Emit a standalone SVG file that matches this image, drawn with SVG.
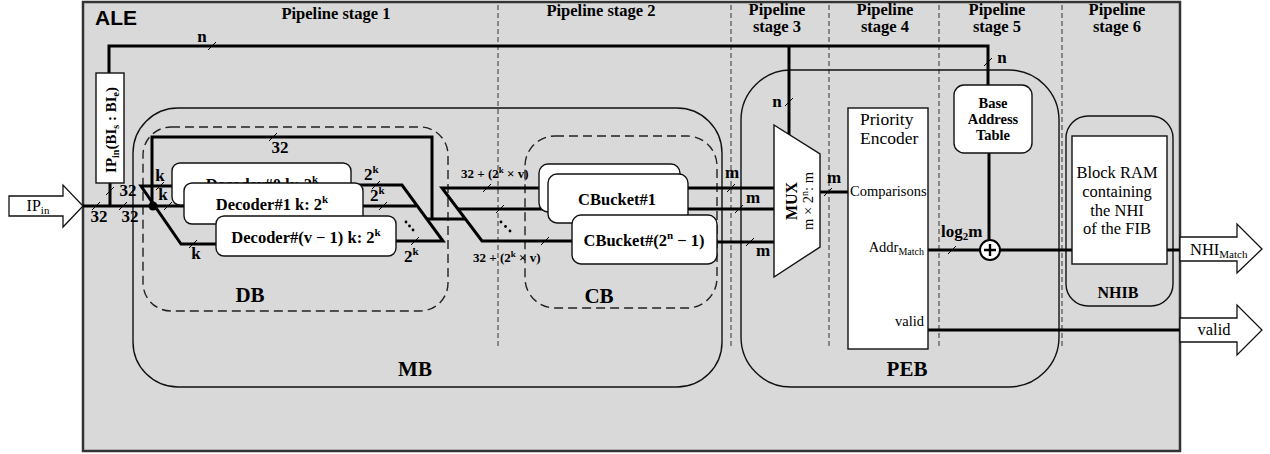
<svg xmlns="http://www.w3.org/2000/svg" width="1270" height="454" viewBox="0 0 1270 454">
<defs>
<style>
.bus{fill:none;stroke:#000;stroke-width:3;stroke-linejoin:miter}
.tk{stroke:#000;stroke-width:1}
.div{stroke:#333;stroke-width:1;stroke-dasharray:5 3}
.blk{fill:none;stroke:#111;stroke-width:1.4}
.dash{fill:none;stroke:#222;stroke-width:1.4;stroke-dasharray:9 5}
.box{fill:#fff;stroke:#111;stroke-width:1.4}
.sb{font-family:"Liberation Serif",serif;font-weight:bold;fill:#000}
.sr{font-family:"Liberation Serif",serif;fill:#000}
.lab{font-family:"Liberation Serif",serif;font-weight:bold;font-size:17px;text-anchor:middle}
.stg{font-family:"Liberation Serif",serif;font-weight:bold;font-size:16.5px;text-anchor:middle}
.big{font-family:"Liberation Serif",serif;font-weight:bold;font-size:21px;text-anchor:middle}
.sup{font-size:11px}
</style>
</defs>

<!-- accelerator frame -->
<g id="ale">
<rect x="83" y="2" width="1097" height="449" fill="#d9d9d9" stroke="#333" stroke-width="2.5"/>
<text x="95" y="25" font-family="Liberation Sans, sans-serif" font-weight="bold" font-size="21">ALE</text>
</g>

<!-- pipeline stage separators and headings -->
<g id="stages">
<line class="div" x1="498" y1="5" x2="498" y2="348"/>
<line class="div" x1="731" y1="5" x2="731" y2="348"/>
<line class="div" x1="829" y1="5" x2="829" y2="348"/>
<line class="div" x1="939" y1="5" x2="939" y2="348"/>
<line class="div" x1="1062" y1="5" x2="1062" y2="348"/>
<text class="stg" x="336" y="19">Pipeline stage 1</text>
<text class="stg" x="601" y="16">Pipeline stage 2</text>
<text class="stg" x="777" y="15">Pipeline</text><text class="stg" x="777" y="32">stage 3</text>
<text class="stg" x="885" y="15">Pipeline</text><text class="stg" x="885" y="32">stage 4</text>
<text class="stg" x="997" y="15">Pipeline</text><text class="stg" x="997" y="32">stage 5</text>
<text class="stg" x="1117" y="15">Pipeline</text><text class="stg" x="1117" y="32">stage 6</text>
</g>

<!-- block outlines -->
<g id="mb">
<rect class="blk" x="133" y="108" width="589" height="279" rx="45"/>
<text class="big" x="415" y="376">MB</text>
</g>
<g id="db">
<rect class="dash" x="143" y="127" width="305" height="184" rx="28"/>
<text class="big" x="250" y="302">DB</text>
</g>
<g id="cb">
<rect class="dash" x="525" y="136" width="192" height="172" rx="30"/>
<text class="big" x="599" y="303">CB</text>
</g>
<g id="peb">
<rect class="blk" x="741" y="70" width="318" height="317" rx="50"/>
<text class="big" x="907" y="376" font-size="23">PEB</text>
</g>
<g id="nhib">
<rect class="blk" x="1066" y="116" width="107" height="190" rx="22"/>
<text class="sb" x="1118" y="298" font-size="16" text-anchor="middle">NHIB</text>
</g>

<!-- buses and wires -->
<g id="connectors">
<!-- IP input and the decoder fan-out -->
<line class="bus" x1="83" y1="206" x2="184" y2="206"/>
<line class="bus" x1="110" y1="183" x2="110" y2="206"/>
<polyline class="bus" points="109,73 109,46 988,46 988,85"/>
<line class="bus" x1="789" y1="46" x2="789" y2="136"/>
<polyline class="bus" points="172,186 141,186 181,244 216,244"/>
<polyline class="bus" points="152,206 152,137 432,137 432,219"/>
<circle cx="153" cy="206" r="4.5" fill="#000"/>
<!-- decoder outputs -->
<polyline class="bus" points="351,185 402,185 443,241 396,241"/>
<line class="bus" x1="363" y1="206" x2="416" y2="206"/>
<line class="bus" x1="427" y1="219" x2="466" y2="219"/>
<!-- bucket inputs -->
<polyline class="bus" points="539,188 442,188 482,241 572,241"/>
<line class="bus" x1="458" y1="209" x2="548" y2="209"/>
<!-- bucket outputs to MUX -->
<line class="bus" x1="680" y1="188" x2="774" y2="188"/>
<line class="bus" x1="688" y1="209" x2="774" y2="209"/>
<line class="bus" x1="717" y1="242" x2="774" y2="242"/>
<line class="bus" x1="820" y1="192" x2="848" y2="192"/>
<!-- match address path -->
<line class="bus" x1="928" y1="250" x2="1072" y2="250"/>
<line class="bus" x1="989" y1="153" x2="989" y2="240"/>
<line class="bus" x1="1167" y1="250" x2="1180" y2="250"/>
<line class="bus" x1="928" y1="330" x2="1180" y2="330" stroke-width="2.6"/>
<!-- width ticks -->
<g class="tk">
<line x1="208" y1="50" x2="216" y2="42"/>
<line x1="269" y1="141" x2="277" y2="133"/>
<line x1="92" y1="210" x2="100" y2="202"/>
<line x1="119" y1="210" x2="127" y2="202"/>
<line x1="106" y1="195" x2="114" y2="187"/>
<line x1="156" y1="190" x2="164" y2="182"/>
<line x1="164" y1="210" x2="172" y2="202"/>
<line x1="189" y1="248" x2="197" y2="240"/>
<line x1="372" y1="189" x2="380" y2="181"/>
<line x1="379" y1="210" x2="387" y2="202"/>
<line x1="411" y1="245" x2="419" y2="237"/>
<line x1="483" y1="192" x2="491" y2="184"/>
<line x1="496" y1="213" x2="504" y2="205"/>
<line x1="541" y1="245" x2="549" y2="237"/>
<line x1="727" y1="192" x2="735" y2="184"/>
<line x1="735" y1="213" x2="743" y2="205"/>
<line x1="746" y1="246" x2="754" y2="238"/>
<line x1="785" y1="106" x2="793" y2="98"/>
<line x1="824" y1="196" x2="832" y2="188"/>
<line x1="948" y1="254" x2="956" y2="246"/>
<line x1="984" y1="66" x2="992" y2="58"/>
</g>
<!-- continuation dots -->
<g fill="#000">
<circle cx="406" cy="222" r="1.4"/><circle cx="409.5" cy="226" r="1.4"/><circle cx="413" cy="230" r="1.4"/>
<circle cx="501" cy="222" r="1.4"/><circle cx="505.5" cy="226.5" r="1.4"/><circle cx="510" cy="231" r="1.4"/>
</g>
</g>

<!-- width labels -->
<g id="widths" class="lab">
<text x="202" y="42">n</text>
<text x="280" y="153">32</text>
<text x="99" y="222">32</text>
<text x="130" y="222">32</text>
<text x="128" y="196">32</text>
<text x="160" y="181">k</text>
<text x="163" y="200">k</text>
<text x="196" y="259">k</text>
<text x="364" y="180" text-anchor="start">2<tspan class="sup" dy="-7">k</tspan></text>
<text x="370" y="201" text-anchor="start">2<tspan class="sup" dy="-7">k</tspan></text>
<text x="404" y="262" text-anchor="start">2<tspan class="sup" dy="-7">k</tspan></text>
<text x="461" y="178" text-anchor="start" font-size="13">32 + (2<tspan font-size="9" dy="-5">k</tspan><tspan dy="5"> × v)</tspan></text>
<text x="473" y="262" text-anchor="start" font-size="13">32 + (2<tspan font-size="9" dy="-5">k</tspan><tspan dy="5"> × v)</tspan></text>
<text x="732" y="178">m</text>
<text x="753" y="203">m</text>
<text x="763" y="256">m</text>
<text x="777" y="107">n</text>
<text x="834" y="183">m</text>
<text x="941" y="237" text-anchor="start">log<tspan font-size="11" dy="3">2</tspan><tspan dy="-3">m</tspan></text>
<text x="1002" y="63">n</text>
</g>

<!-- IP input arrow -->
<g id="ip-in">
<polygon points="9,196 63,196 63,185 83,206 63,227 63,216 9,216" fill="#fff" stroke="#111" stroke-width="1.3"/>
<text class="sr" x="38" y="211" font-size="16" text-anchor="middle">IP<tspan font-size="11" dy="3">in</tspan></text>
</g>

<!-- bit-range extractor -->
<g id="ip-range">
<rect class="box" x="96" y="73" width="28" height="110"/>
<text class="sb" font-size="15" text-anchor="middle" transform="translate(116,130) rotate(-90)">IP<tspan font-size="10" dy="3">in</tspan><tspan dy="-3">(BI</tspan><tspan font-size="10" dy="3">s</tspan><tspan dy="-3"> : BI</tspan><tspan font-size="10" dy="3">e</tspan><tspan dy="-3">)</tspan></text>
</g>

<!-- decoders -->
<g id="decoder0">
<rect class="box" x="172" y="163" width="179" height="42" rx="8"/>
<text class="sb" x="262" y="190" font-size="16.5" text-anchor="middle">Decoder#0 k: 2<tspan class="sup" dy="-7">k</tspan></text>
</g>
<g id="decoder1">
<rect class="box" x="184" y="183" width="179" height="41" rx="8"/>
<text class="sb" x="272" y="210" font-size="16.5" text-anchor="middle">Decoder#1 k: 2<tspan class="sup" dy="-7">k</tspan></text>
</g>
<g id="decoderv">
<rect class="box" x="216" y="216" width="180" height="40" rx="8"/>
<text class="sb" x="306" y="243" font-size="16.5" text-anchor="middle">Decoder#(v − 1) k: 2<tspan class="sup" dy="-7">k</tspan></text>
</g>

<!-- comparator buckets -->
<g id="cbucket0">
<rect class="box" x="539" y="164" width="141" height="48" rx="9"/>
</g>
<g id="cbucket1">
<rect class="box" x="548" y="174" width="140" height="49" rx="9"/>
<text class="sb" x="617" y="205" font-size="16.5" text-anchor="middle">CBucket#1</text>
</g>
<g id="cbucketn">
<rect class="box" x="572" y="215" width="145" height="49" rx="9"/>
<text class="sb" x="644" y="246" font-size="16.5" text-anchor="middle">CBucket#(2<tspan class="sup" dy="-7">n</tspan><tspan dy="7"> − 1)</tspan></text>
</g>

<!-- multiplexer -->
<g id="mux">
<polygon points="774,125 820,154 820,247 774,277" fill="#fff" stroke="#111" stroke-width="1.4"/>
<text class="sb" font-size="16" text-anchor="middle" transform="translate(797,201) rotate(-90)">MUX</text>
<text class="sr" font-size="14.5" text-anchor="middle" transform="translate(813,201) rotate(-90)">m × 2<tspan font-size="10" dy="-5">n</tspan><tspan dy="5">: m</tspan></text>
</g>

<!-- priority encoder -->
<g id="priority-encoder">
<rect class="box" x="848" y="108" width="80" height="241"/>
<text class="sr" x="860" y="125" font-size="17.5">Priority</text>
<text class="sr" x="860" y="144" font-size="17.5">Encoder</text>
<text class="sr" x="850" y="196" font-size="14.5">Comparisons</text>
<text class="sr" x="924" y="252" font-size="14.5" text-anchor="end">Addr<tspan font-size="10" dy="3">Match</tspan></text>
<text class="sr" x="924" y="326" font-size="14.5" text-anchor="end">valid</text>
</g>

<!-- base address table -->
<g id="base-address-table">
<rect class="box" x="954" y="85" width="78" height="68" rx="10"/>
<text class="sb" x="993" y="108" font-size="14.5" text-anchor="middle">Base</text>
<text class="sb" x="993" y="124" font-size="14.5" text-anchor="middle">Address</text>
<text class="sb" x="993" y="140" font-size="14.5" text-anchor="middle">Table</text>
</g>

<!-- adder -->
<circle id="adder" cx="990" cy="250" r="10" fill="#fff" stroke="#000" stroke-width="2"/>
<path d="M984 250H996M990 244V256" stroke="#000" stroke-width="2.4"/>

<!-- next hop memory -->
<g id="block-ram">
<rect class="box" x="1072" y="136" width="95" height="128"/>
<text class="sr" x="1117" y="178" font-size="16.5" text-anchor="middle">Block RAM</text>
<text class="sr" x="1117" y="197" font-size="16.5" text-anchor="middle">containing</text>
<text class="sr" x="1117" y="216" font-size="16.5" text-anchor="middle">the NHI</text>
<text class="sr" x="1117" y="234" font-size="16.5" text-anchor="middle">of the FIB</text>
</g>

<!-- outputs -->
<g id="nhi-out">
<polygon points="1180,237 1237,237 1237,224 1262,249 1237,273 1237,261 1180,261" fill="#fff" stroke="#111" stroke-width="1.3"/>
<text class="sr" x="1190" y="255" font-size="16.5">NHI<tspan font-size="11" dy="3">Match</tspan></text>
</g>
<g id="valid-out">
<polygon points="1180,318 1237,318 1237,305 1262,330 1237,355 1237,342 1180,342" fill="#fff" stroke="#111" stroke-width="1.3"/>
<text class="sr" x="1214" y="335" font-size="16.5" text-anchor="middle">valid</text>
</g>
</svg>
